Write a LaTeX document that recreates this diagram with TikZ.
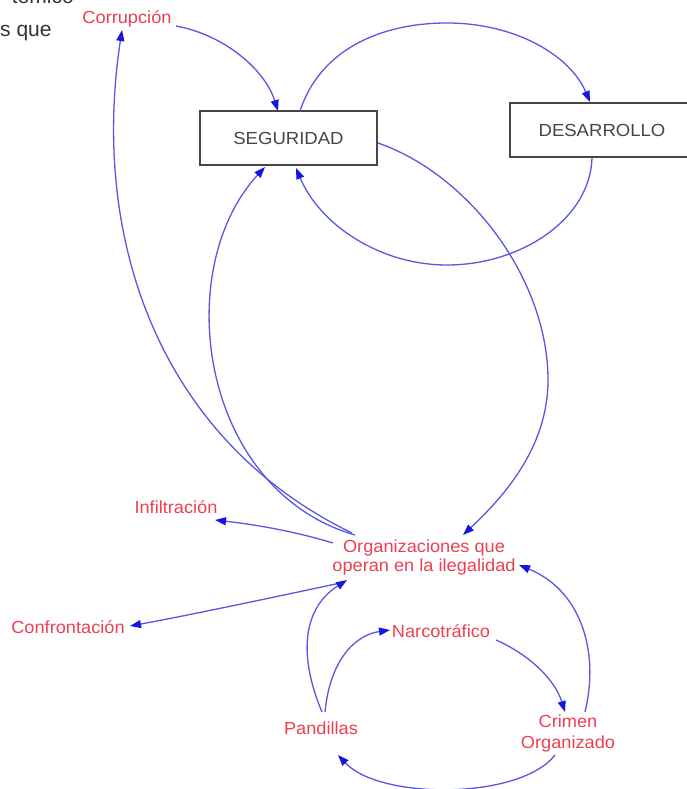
\documentclass[tikz,border=0pt]{standalone}
\usepackage{fontspec}
\setmainfont{Liberation Sans}
\usetikzlibrary{arrows.meta,calc}
\definecolor{linkblue}{RGB}{88,88,226}
\definecolor{tipblue}{RGB}{22,22,225}
\definecolor{varred}{RGB}{236,64,82}
\definecolor{boxgray}{RGB}{70,70,70}
\tikzset{
  var/.style={text=varred,font=\fontsize{17.5}{19}\selectfont\addfontfeature{FakeStretch=1.04},inner sep=0pt,align=center},
  stock/.style={draw=boxgray,line width=1.6pt,text=boxgray,font=\fontsize{17.5}{19}\selectfont\addfontfeature{FakeStretch=1.06},
                minimum height=54pt,inner sep=0pt},
  link/.style={draw=linkblue,line width=1.3pt,
               -{Triangle[length=11pt,width=8pt,color=tipblue]}},
}
\begin{document}
\begin{tikzpicture}[x=1pt,y=-1pt]
\useasboundingbox (0,0) rectangle (687,789);
\fill[white] (0,0) rectangle (687,789);

% text running in from the page on the left
\node[anchor=base east,text=black!80,font=\fontsize{21}{24}\selectfont,inner sep=0pt] (head) at (74,4) {tómico};
\node[anchor=base west,text=black!80,font=\fontsize{21}{24}\selectfont,inner sep=0pt] (headb) at (0,37) {s que};

% stocks
\node[stock,minimum width=177pt] (seg) at (288.5,138) {SEGURIDAD};
\node[stock,minimum width=184pt] (des) at (602,130) {DESARROLLO};

% variables
\node[var] (corr) at (127,19) {Corrupción};
\node[var] (org)  at (424,557) {Organizaciones que\\operan en la ilegalidad};
\node[var] (inf)  at (176,507) {Infiltración};
\node[var] (conf) at (68,627) {Confrontación};
\node[var] (narc) at (441,631) {Narcotráfico};
\node[var] (pand) at (321,728) {Pandillas};
\node[var,font=\fontsize{17.5}{21}\selectfont\addfontfeature{FakeStretch=1.04}] (crim) at (568,733) {Crimen\\Organizado};

% links
\draw[link] ([shift={(49,7)}]corr.center) .. controls (225,35) and (265,70) .. ([shift={(-10.5,-27)}]seg.center);
\draw[link] ([shift={(11.5,-27)}]seg.center) .. controls (320,50) and (380,23) .. (447,23)
            .. controls (515,23) and (570,55) .. ([shift={(-12,-28)}]des.center);
\draw[link] ([shift={(-10,28)}]des.center) .. controls (590,220) and (520,265) .. (447,265)
            .. controls (380,265) and (320,225) .. ([shift={(7.5,30)}]seg.center);
\draw[link] ([shift={(89.5,5)}]seg.center) .. controls (470,175) and (548,280) .. (548,380)
            .. controls (548,450) and (500,500) .. ([shift={(39,-22)}]org.center);
\draw[link] ([shift={(-69,-22)}]org.center) .. controls (200,490) and (170,270) .. ([shift={(-23.5,29)}]seg.center);
\draw[link] ([shift={(-72,-24)}]org.center) .. controls (160,440) and (90,240) .. ([shift={(-5,11)}]corr.center);
\draw[link] ([shift={(-91,-14)}]org.center) .. controls (290,530) and (250,524) .. ([shift={(39,13)}]inf.center);
\draw[link] ([shift={(-79,25)}]org.center) .. controls (270,598) and (190,615) .. ([shift={(62,-1)}]conf.center);
\draw[link] ([shift={(1,-16)}]pand.center) .. controls (300,660) and (300,610) .. ([shift={(-77,23)}]org.center);
\draw[link] ([shift={(4,-16)}]pand.center) .. controls (330,660) and (355,635) .. ([shift={(-51,-1)}]narc.center);
\draw[link] ([shift={(55,9)}]narc.center) .. controls (530,655) and (555,680) .. ([shift={(-3,-21)}]crim.center);
\draw[link] ([shift={(17,-21)}]crim.center) .. controls (600,650) and (580,590) .. ([shift={(95,8)}]org.center);
\draw[link] ([shift={(-13,22)}]crim.center) .. controls (520,800) and (380,800) .. ([shift={(17,27)}]pand.center);
\end{tikzpicture}
\end{document}
